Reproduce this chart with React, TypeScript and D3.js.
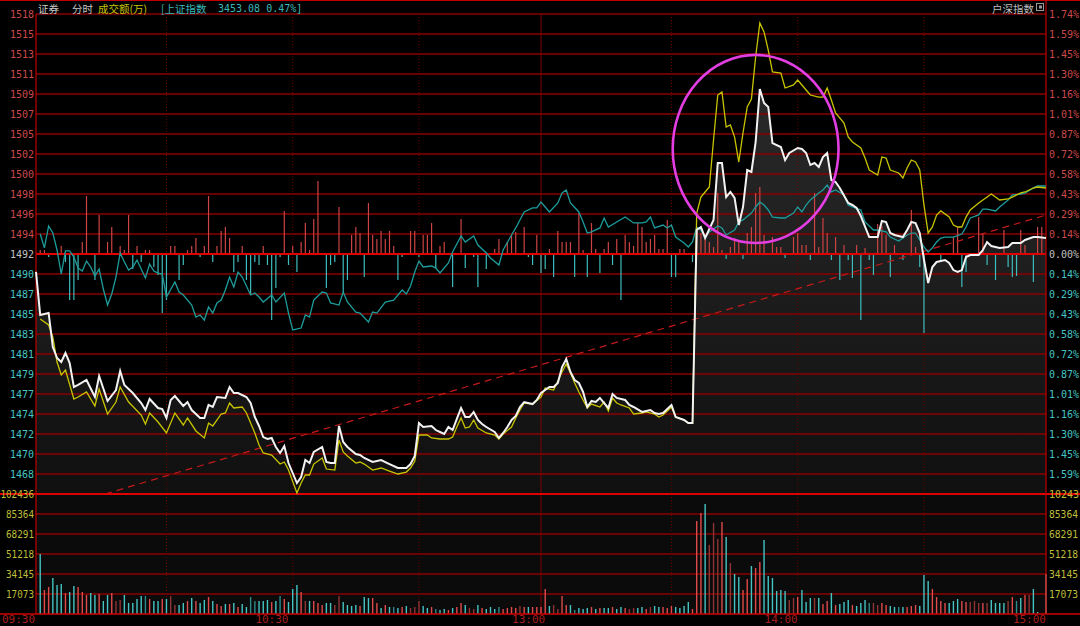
import React from "react";
import * as d3 from "d3";

// ---------- DATA ----------
const PREV_CLOSE = 1492.1;
const PRICE_STEP = 2.17;
const MAX_PCT = 1.74;
const MAX_VOL = 102436;

const header = { name: "证券", mode: "分时", volLabel: "成交额(万)", indexName: "[上证指数", indexValue: "3453.08 0.47%]" };
const cornerLabel = "户深指数";

const priceLabels = ["1518","1515","1513","1511","1509","1507","1505","1502","1500","1498","1496","1494","1492","1490","1487","1485","1483","1481","1479","1477","1474","1472","1470","1468"];
const pctLabels = ["1.74%","1.59%","1.45%","1.30%","1.16%","1.01%","0.87%","0.72%","0.58%","0.43%","0.29%","0.14%","0.00%","0.14%","0.29%","0.43%","0.58%","0.72%","0.87%","1.01%","1.16%","1.30%","1.45%","1.59%"];
const volTicks = [102436, 85364, 68291, 51218, 34145, 17073];
const timeLabels: [number, string, string][] = [[0, "09:30", "start"], [60, "10:30", "end"], [121, "13:00", "end"], [181, "14:00", "end"], [240, "15:00", "end"]];
const dottedMinutes = [31, 61, 91, 151, 181, 211];
const lunchMinute = 120;

// stock price (white)
const priceLine: [number, number][] = [
[0,1490.15],[1,1485.48],[3,1485.70],[4,1482.01],[5,1480.82],[6,1480.38],[7,1481.36],[8,1480.27],[9,1477.67],[10,1477.89],[12,1478.43],[14,1476.58],[15,1478.86],[17,1476.15],[19,1477.34],[20,1479.41],[21,1477.89],[23,1477.02],[25,1475.93],[26,1475.17],[27,1476.37],[29,1475.39],[30,1475.28],[31,1474.31],[32,1476.26],[33,1476.69],[35,1475.61],[36,1476.04],[37,1475.17],[39,1474.31],[40,1474.31],[41,1475.72],[42,1475.50],[43,1476.58],[45,1476.48],[46,1477.67],[47,1477.02],[48,1477.02],[50,1476.58],[51,1475.93],[52,1474.41],[53,1473.44],[54,1472.24],[55,1472.03],[56,1472.14],[57,1471.16],[58,1470.51],[59,1471.27],[60,1469.42],[62,1467.25],[63,1467.90],[64,1469.75],[65,1469.42],[66,1470.62],[68,1471.16],[69,1469.53],[70,1469.42],[71,1469.42],[72,1473.44],[73,1471.70],[74,1471.16],[76,1470.40],[77,1470.29],
[78,1469.97],[80,1469.53],[82,1469.75],[84,1469.31],[86,1468.88],[88,1468.88],[89,1469.31],[90,1470.2],[91,1473.76],[92,1473.33],[94,1473.44],[95,1473.00],[96,1472.79],[97,1472.57],[98,1473.33],[99,1473.00],[100,1474.20],[101,1475.39],[102,1474.41],[103,1474.41],[104,1474.96],[105,1474.09],[106,1473.65],[107,1473.33],[109,1472.79],[110,1472.14],[111,1472.68],[112,1473.33],[113,1474.09],[114,1474.52],[115,1475.50],[116,1476.04],[118,1475.82],[119,1476.26],[120,1477.02],
[122,1477.67],[123,1477.67],[124,1478.10],[125,1479.84],[126,1480.71],[127,1479.30],[128,1478.43],[129,1478.10],[130,1477.13],[131,1475.50],[132,1476.15],[133,1476.04],[134,1476.48],[135,1475.93],[136,1475.39],[137,1476.91],[138,1476.48],[140,1476.26],[141,1475.72],[142,1475.50],[144,1474.96],[145,1475.07],[146,1475.17],[147,1474.85],[148,1474.74],[149,1474.85],[151,1475.72],[152,1474.41],[154,1474.09],[155,1473.76],[156,1473.76],
[157,1494.70],[158,1495.03],[159,1493.84],[161,1495.79],[162,1501.97],[163,1501.97],[164,1498.28],[165,1498.83],[166,1498.18],[167,1495.25],[168,1497.20],[169,1501.21],[170,1501.00],[171,1504.25],[172,1510.00],[173,1508.48],[174,1508.05],[175,1504.14],[177,1503.71],[178,1502.30],[179,1503.06],[181,1503.60],[182,1503.49],[183,1503.06],[184,1501.76],[185,1501.97],[186,1501.54],[187,1502.62],[188,1503.06],[189,1500.13],[190,1499.91],[191,1499.26],[193,1497.63],[194,1497.42],[195,1497.09],[196,1496.22],[198,1493.94],[200,1493.94],[201,1495.68],[202,1495.57],[203,1494.38],[204,1494.16],[206,1493.94],[207,1494.70],[208,1495.57],[209,1495.46],[210,1494.38],[211,1491.5],[212,1488.95],[213,1490.69],[214,1491.23],[216,1491.45],[217,1491.12],[218,1490.36],[219,1490.15],[220,1490.36],[221,1491.77],[222,1491.99],[224,1491.99],[225,1492.53],[226,1493.40],[227,1492.97],[229,1492.75],[231,1492.86],[232,1493.29],[234,1493.29],[235,1493.62],[237,1493.94],[238,1493.94],[240,1493.84]
];

// yellow line
const yellowLine: [number, number][] = [
[1,1485.05],[3,1484.40],[4,1483.09],[5,1480.38],[6,1478.97],[7,1479.51],[9,1476.37],[10,1476.58],[12,1477.13],[14,1475.61],[15,1477.45],[17,1474.74],[19,1476.04],[20,1477.67],[22,1476.04],[25,1474.63],[26,1473.65],[27,1474.85],[29,1473.87],[31,1472.68],[33,1474.85],[35,1473.55],[36,1474.31],[38,1472.90],[40,1472.14],[41,1473.76],[42,1473.44],[44,1474.74],[45,1474.85],[46,1475.93],[47,1475.39],[49,1475.50],[50,1474.85],[52,1472.68],[53,1471.38],[54,1470.51],[56,1470.29],[58,1469.31],[59,1469.53],[60,1468.66],[62,1466.17],[63,1467.25],[64,1468.12],[65,1468.12],[66,1469.31],[68,1469.97],[69,1468.77],[71,1468.66],[72,1471.92],[73,1470.62],[74,1470.18],[76,1469.42],[77,1469.53],[78,1469.31],[80,1468.66],[82,1468.88],[84,1468.55],[86,1468.23],[88,1468.44],[89,1468.88],[90,1469.6],[91,1472.46],[93,1472.46],[94,1472.14],[96,1472.03],[98,1472.03],[99,1472.24],[100,1473.33],[101,1474.31],[102,1473.22],[103,1473.33],[104,1474.09],[105,1473.22],[107,1472.68],[109,1472.46],[110,1472.03],[111,1472.57],[113,1473.33],[114,1474.31],[115,1475.17],[116,1475.93],[118,1475.82],[120,1476.58],[121,1477.56],[122,1477.45],[123,1477.34],[125,1479.30],[126,1480.16],[127,1479.19],[128,1478.10],[129,1477.13],[131,1475.39],[132,1475.82],[134,1475.50],[135,1476.04],[136,1475.07],[137,1476.48],[138,1475.93],[139,1475.72],[141,1475.39],[142,1474.74],[144,1474.85],[145,1474.96],[147,1474.74],[148,1474.41],[149,1474.63],[151,1475.50],[152,1474.41],[154,1474.09],[155,1473.76],[156,1473.76],
[157,1496.5],[158,1498.28],[159,1498.83],[160,1499.37],[161,1504.47],[162,1509.35],[163,1509.68],[164,1505.88],[165,1506.10],[166,1504.79],[167,1502.08],[168,1505.23],[169,1508.05],[170,1508.92],[171,1513.47],[172,1517.16],[173,1516.19],[174,1514.23],[175,1511.85],[177,1511.74],[178,1510.11],[180,1510.44],[181,1510.98],[182,1510.44],[183,1509.89],[184,1509.35],[186,1509.13],[187,1509.13],[188,1510.11],[189,1508.81],[190,1507.40],[192,1506.31],[193,1504.79],[194,1504.25],[196,1503.60],[197,1502.52],[198,1501.21],[200,1500.67],[201,1502.62],[202,1502.52],[203,1501.21],[205,1500.89],[206,1500.35],[207,1501.43],[208,1502.30],[209,1502.08],[210,1501.21],[211,1497.42],[212,1494.38],[213,1495.03],[214,1496.33],[215,1496.77],[217,1496.11],[218,1495.25],[219,1495.03],[220,1495.03],[221,1496.11],[222,1496.87],[224,1497.63],[226,1498.28],[227,1498.61],[228,1498.28],[229,1497.96],[231,1498.07],[232,1498.28],[234,1498.72],[235,1498.83],[237,1499.26],[238,1499.37],[240,1499.26]
];

// Shanghai index overlay (% change)
const indexPct: [number, number][] = [
[1,0.145],[2,0.044],[3,0.203],[4,0.152],[5,0.029],[6,-0.145],[7,0.022],[8,0.022],[9,-0.022],[10,-0.102],[11,-0.123],[12,-0.051],[13,-0.094],[14,-0.160],[15,-0.109],[16,-0.254],[17,-0.370],[18,-0.290],[19,-0.167],[20,0.007],[21,-0.058],[22,-0.116],[23,-0.094],[24,-0.044],[25,-0.109],[26,-0.174],[27,-0.073],[28,-0.123],[29,-0.138],[30,-0.145],[31,-0.312],[33,-0.203],[34,-0.276],[35,-0.297],[37,-0.370],[38,-0.457],[39,-0.442],[40,-0.479],[41,-0.384],[42,-0.428],[43,-0.355],[44,-0.334],[45,-0.261],[46,-0.167],[47,-0.239],[48,-0.131],[49,-0.167],[51,-0.297],[52,-0.283],[53,-0.312],[54,-0.348],[56,-0.297],[57,-0.348],[59,-0.283],[60,-0.428],[61,-0.551],[63,-0.537],[64,-0.442],[65,-0.457],[66,-0.334],[68,-0.276],[69,-0.283],[70,-0.355],[72,-0.370],[73,-0.276],[74,-0.348],[76,-0.421],[77,-0.428],[79,-0.493],[80,-0.421],[81,-0.428],[83,-0.348],[85,-0.334],[87,-0.261],[88,-0.290],[89,-0.232],[90,-0.131],[91,-0.051],[92,-0.094],[94,-0.087],[95,-0.102],[96,-0.138],[98,-0.065],[99,0.015],[101,0.131],[102,0.087],[104,0.131],[105,0.065],[107,0.007],[108,-0.029],[110,-0.080],[111,0.029],[113,0.138],[114,0.189],[116,0.305],[118,0.334],[119,0.334],[120,0.377],[122,0.305],[124,0.370],[125,0.442],[126,0.464],[127,0.370],[129,0.305],[130,0.232],[131,0.152],[132,0.160],[134,0.189],[135,0.261],[136,0.196],[138,0.232],[140,0.268],[142,0.225],[144,0.225],[145,0.232],[146,0.268],[147,0.189],[149,0.210],[150,0.189],[151,0.210],[152,0.123],[154,0.080],[155,0.051],[156,0.087],[157,0.196],[158,0.174],[159,0.116],[160,0.160],[162,0.203],[163,0.189],[164,0.138],[166,0.174],[167,0.232],[168,0.247],[170,0.297],[171,0.341],[172,0.377],[173,0.355],[174,0.319],[175,0.268],[177,0.261],[178,0.261],[180,0.297],[181,0.341],[182,0.305],[183,0.355],[184,0.392],[186,0.442],[187,0.464],[188,0.500],[189,0.450],[190,0.464],[192,0.428],[193,0.355],[194,0.341],[196,0.319],[197,0.232],[199,0.174],[200,0.174],[202,0.160],[203,0.123],[205,0.094],[207,0.138],[208,0.152],[209,0.152],[211,0.051],[212,0.015],[213,0.044],[214,0.087],[215,0.116],[216,0.123],[218,0.123],[220,0.145],[221,0.196],[222,0.261],[224,0.283],[225,0.326],[226,0.326],[228,0.312],[229,0.341],[231,0.392],[232,0.428],[234,0.435],[235,0.442],[237,0.479],[238,0.493],[240,0.493]
];

// buy/sell strength bars (positive red, negative teal)
const strengthBars: [number, number][] = [
[1,4],[2,4],[4,1],[6,8],[11,12],[12,58],[15,39],[17,12],[18,27],[20,8],[21,4],[22,39],[24,8],[26,4],[27,4],[32,8],[33,8],[36,4],[37,8],[38,16],[40,8],[41,58],[43,8],[44,23],[45,27],[46,16],[49,8],[54,8],[59,43],[61,8],[63,12],[64,31],[65,4],[66,35],[67,73],[72,47],[75,19],[76,27],[77,21],[79,51],[80,19],[81,15],[82,23],[83,15],[84,23],[85,8],[89,23],[90,23],[92,19],[93,19],[94,31],[96,8],[97,12],[101,35],[109,5],[110,15],[112,12],[113,19],[114,22],[116,27],[119,19],[122,5],[124,23],[125,12],[126,12],[127,12],[129,41],[130,4],[132,31],[133,5],[135,5],[136,12],[138,15],[140,19],[141,12],[142,8],[143,31],[144,27],[145,12],[146,15],[147,19],[148,5],[149,5],[150,34],[153,5],[154,5],[157,27],[158,21],[159,16],[160,12],[161,7],[162,61],[163,4],[165,7],[166,16],[167,12],[169,21],[170,27],[171,61],[172,67],[173,19],[175,17],[176,7],[177,7],[180,17],[181,21],[182,9],[183,9],[185,61],[186,7],[187,36],[188,21],[190,17],[192,9],[195,9],[197,6],[200,30],[201,28],[202,19],[204,9],[208,44],[209,7],[218,17],[219,27],[224,37],[225,21],[230,24],[234,24],[235,9],[238,27],[239,27],
[3,-3],[7,-8],[8,-46],[9,-46],[10,-26],[14,-26],[23,-15],[25,-8],[28,-13],[29,-21],[30,-59],[31,-46],[34,-26],[35,-11],[39,-3],[42,-8],[47,-18],[48,-8],[50,-26],[51,-41],[52,-8],[53,-11],[55,-11],[56,-66],[57,-34],[58,-3],[60,-11],[62,-18],[69,-34],[70,-11],[71,-8],[73,-38],[74,-26],[78,-23],[86,-26],[87,-3],[91,-3],[95,-14],[99,-33],[102,-14],[104,-3],[105,-33],[107,-15],[117,-3],[118,-11],[120,-19],[121,-15],[123,-23],[128,-23],[131,-23],[134,-19],[137,-11],[139,-46],[151,-23],[152,-23],[156,-8],[164,-5],[168,-5],[178,-4],[184,-6],[189,-6],[191,-26],[193,-6],[194,-24],[196,-66],[198,-6],[199,-21],[203,-23],[206,-6],[210,-13],[211,-79],[215,-6],[220,-33],[221,-18],[226,-11],[228,-26],[231,-13],[232,-23],[233,-22],[237,-28]
];

// turnover per minute (万), minutes 1..238
const volumes = [
51218,20488,23049,30731,24756,25610,17927,18780,23902,23049,
18780,16219,17927,16219,17073,11097,16219,17927,11097,11951,
16219,9390,9390,12805,15366,15366,12805,11097,11097,12805,
12805,15366,7683,7683,9390,11097,13658,11097,9390,11951,
14512,11097,8537,6829,8537,8537,9390,5976,8537,5976,
14512,11097,11097,11097,11951,10244,11097,15366,12805,10244,
21341,24756,18780,11097,11097,11097,9390,7683,9390,9390,
7683,15366,10244,7683,6829,7683,6829,14512,13658,13658,
9390,5122,7683,5976,5976,5122,5976,6829,5122,5976,
11097,6829,5122,5976,4268,3415,4268,3415,5122,5976,
9390,7683,5122,4268,7683,5122,4268,5976,4268,5976,
4268,5122,5976,5122,6829,5976,5976,5976,5976,5976,
21341,6829,7683,4268,15366,7683,7683,3415,5122,4268,
5122,5976,4268,5122,5122,5122,5976,4268,5976,5122,
4268,5122,5122,5976,4268,5976,6829,5976,5976,5122,
6829,5976,5122,6829,10244,4268,79389,86219,93902,58902,
77682,64024,78536,65731,43536,34146,31585,20488,29878,40975,
39268,44390,63170,32439,30731,19634,20488,19634,11951,13658,
14512,20488,10244,13658,13658,13658,8537,11097,17927,7683,
8537,10244,11951,7683,6829,9390,11951,9390,9390,7683,
9390,7683,6829,5976,5976,5976,5976,6829,7683,6829,
33292,28170,21341,14512,11097,9390,9390,11097,12805,11097,
10244,10244,11097,9390,9390,9390,11951,9390,9390,9390,
11097,14512,11097,13658,16219,16219,21341,1707
];
// U up, u up (flat), D down, d down (flat)
const volTypes =
  "DUUDDDUDDU" + "UUDDUDDUuu" + "DDDDDdUDDU" + "DuuDDUDUDD" + "UDUUDUDUDD" +
  "ddDDDUDdUD" + "DDUuDUUUDD" + "uuDDDDUDDU" + "UDUDdDUDuu" + "uDDUdDDUDU" +
  "UDuuDUDDDd" + "UUUUuUDUUU" + "UDuuUUDdDD" + "DUDUDDUDDU" + "uuDDUuDDUU" +
  "UDDDDUUUDu" + "uuUDuDDUUD" + "UUDDDDDDuu" + "UDDDuDUUDU" + "DDDUDDDduu" +
  "UUDDdDUUUD" + "DDUUUUDDDU" + "UuuuUuDDDD" + "uUdDUuDD";
const lastVolume: [number, number] = [240, 34145];

// annotations
const trendLine: [number, number][] = [[16.4, 1466.06], [240, 1496.33]];
const circleNote = { minute: 171, price: 1503.5, rMinutes: 19.7, rPrice: 10.2 };

// ---------- CHART ----------
const W = 1080, H = 626;
const L = 36, R = 1046, TOP = 14, MID_BOTTOM = 494, VOL_BOTTOM = 614;

export default function App() {
  const x = d3.scaleLinear().domain([0, 240]).range([L, R]);
  const pctY = d3.scaleLinear().domain([-MAX_PCT, MAX_PCT]).range([MID_BOTTOM, TOP]);
  const priceY = d3.scaleLinear().domain([PREV_CLOSE - 12 * PRICE_STEP, PREV_CLOSE + 12 * PRICE_STEP]).range([MID_BOTTOM, TOP]);
  const volY = d3.scaleLinear().domain([0, MAX_VOL]).range([VOL_BOTTOM, MID_BOTTOM]);
  const strengthY = d3.scaleLinear().domain([-240, 240]).range([MID_BOTTOM, TOP]);
  const volColor = d3.scaleOrdinal<string, string>().domain(["U", "u", "D", "d"]).range(["#e04a4a", "#8e3434", "#45c4c4", "#2b8a8a"]);

  const priceGen = d3.line<[number, number]>().x(d => x(d[0])).y(d => priceY(d[1]));
  const areaGen = d3.area<[number, number]>().x(d => x(d[0])).y0(MID_BOTTOM).y1(d => priceY(d[1]));
  const pctGen = d3.line<[number, number]>().x(d => x(d[0])).y(d => pctY(d[1]));

  const gridK = d3.range(12, -12, -1); // 24 levels from +12 to -11
  const stepPct = MAX_PCT / 12;
  const zeroY = pctY(0);
  const mono = "'DejaVu Sans Mono', 'Liberation Mono', monospace";
  const cjk = "'Noto Sans CJK SC', 'Noto Sans', sans-serif";

  const cx = x(circleNote.minute), cy = priceY(circleNote.price);
  const rx = x(circleNote.rMinutes) - x(0);
  const ry = priceY(PREV_CLOSE) - priceY(PREV_CLOSE + circleNote.rPrice);
  const hy = 12.5;

  return (
    <svg width={W} height={H} style={{ position: "fixed", left: 0, top: 0, background: "#000" }}>
      <defs>
        <linearGradient id="fillGrad" gradientUnits="userSpaceOnUse" x1="0" y1={TOP} x2="0" y2={MID_BOTTOM}>
          <stop offset="0" stopColor="#2e2e2e" />
          <stop offset="1" stopColor="#101010" />
        </linearGradient>
      </defs>
      <rect x={0} y={0} width={W} height={H} fill="#000" />
      <rect x={L} y={MID_BOTTOM} width={R - L} height={VOL_BOTTOM - MID_BOTTOM} fill="#0b0b0b" />
      <path d={areaGen(priceLine) || ""} fill="url(#fillGrad)" />

      {/* horizontal grid */}
      {gridK.map(k => (
        <line key={"g" + k} x1={L} x2={R} y1={pctY(k * stepPct)} y2={pctY(k * stepPct)} stroke="#8a0000" strokeWidth={1.4} />
      ))}
      {volTicks.slice(1).map(v => (
        <line key={"vg" + v} x1={L} x2={R} y1={volY(v)} y2={volY(v)} stroke="#8a0000" strokeWidth={1.4} />
      ))}
      {/* vertical grid */}
      {dottedMinutes.map(m => (
        <line key={"v" + m} x1={x(m)} x2={x(m)} y1={TOP} y2={VOL_BOTTOM} stroke="#6a0000" strokeWidth={1} strokeDasharray="1,2" />
      ))}
      <line x1={x(lunchMinute)} x2={x(lunchMinute)} y1={TOP} y2={VOL_BOTTOM} stroke="#7e0000" strokeWidth={1} />

      {/* strength bars */}
      {strengthBars.map(([m, v], i) => (
        <line key={"s" + i} x1={x(m)} x2={x(m)} y1={strengthY(0)} y2={strengthY(v)} stroke={v > 0 ? "#cc4444" : "#3fbcbc"} strokeWidth={1.2} />
      ))}

      {/* volume bars */}
      {volumes.map((v, i) => (
        <line key={"vb" + i} x1={x(i + 1)} x2={x(i + 1)} y1={VOL_BOTTOM} y2={volY(v)} stroke={volColor(volTypes[i] || "D")} strokeWidth={1.4} />
      ))}
      <line x1={x(lastVolume[0])} x2={x(lastVolume[0])} y1={VOL_BOTTOM} y2={volY(lastVolume[1])} stroke="#bdbdbd" strokeWidth={1.4} />

      {/* trend line */}
      <path d={priceGen(trendLine) || ""} fill="none" stroke="#c41a1a" strokeWidth={1.2} strokeDasharray="7,5" />

      {/* main red frame lines */}
      <line x1={0} x2={W} y1={0.5} y2={0.5} stroke="#c00000" strokeWidth={1} />
      <line x1={L} x2={R} y1={zeroY} y2={zeroY} stroke="#e00000" strokeWidth={2} />
      <line x1={0} x2={W} y1={MID_BOTTOM} y2={MID_BOTTOM} stroke="#e00000" strokeWidth={2} />
      <line x1={0} x2={W} y1={VOL_BOTTOM} y2={VOL_BOTTOM} stroke="#d00000" strokeWidth={1.6} />
      <line x1={L} x2={L} y1={TOP} y2={VOL_BOTTOM} stroke="#c00000" strokeWidth={1.2} />
      <line x1={R} x2={R} y1={0} y2={VOL_BOTTOM} stroke="#c00000" strokeWidth={1.2} />

      {/* lines */}
      <path d={pctGen(indexPct) || ""} fill="none" stroke="#1e9c9c" strokeWidth={1.3} />
      <path d={priceGen(yellowLine) || ""} fill="none" stroke="#c8c400" strokeWidth={1.3} />
      <path d={priceGen(priceLine) || ""} fill="none" stroke="#f2f2f2" strokeWidth={2} />

      {/* annotation ellipse */}
      <ellipse cx={cx} cy={cy} rx={rx} ry={ry} fill="none" stroke="#e23ee2" strokeWidth={2.6} />

      {/* axis labels */}
      {gridK.map((k, i) => {
        const col = k > 0 ? "#cc4a4a" : k === 0 ? "#c0c0c0" : "#46c4c4";
        const yy = pctY(k * stepPct) + 4;
        return (
          <g key={"lab" + k}>
            <text x={34} y={yy} textAnchor="end" fontFamily={mono} fontSize={10} fill={col}>{priceLabels[i]}</text>
            <text x={1049} y={yy} textAnchor="start" fontFamily={mono} fontSize={10} fill={col}>{pctLabels[i]}</text>
          </g>
        );
      })}
      {volTicks.map(v => {
        const s = String(v);
        return (
          <g key={"vl" + v}>
            <text x={34 - s.length * 5.6} y={volY(v) + 4} textLength={s.length * 5.6} lengthAdjust="spacingAndGlyphs" fontFamily={mono} fontSize={10} fill="#bebe3a">{s}</text>
            <text x={1049} y={volY(v) + 4} textLength={Math.min(s.length * 5.8, 30)} lengthAdjust="spacingAndGlyphs" fontFamily={mono} fontSize={10} fill="#bebe3a">{s.length > 5 ? s.slice(0, 5) : s}</text>
          </g>
        );
      })}
      {timeLabels.map(([m, t, anchor]) => (
        <text key={t} x={m === 0 ? 2 : x(m)} y={623} textAnchor={anchor} fontFamily={mono} fontSize={11} fill="#a81e1e">{t}</text>
      ))}

      {/* header */}
      <text x={38} y={hy} fontFamily={cjk} fontSize={10.5} fill="#c8c8c8">{header.name}</text>
      <text x={72} y={hy} fontFamily={cjk} fontSize={10.5} fill="#c8c8c8">{header.mode}</text>
      <text x={98} y={hy} fontFamily={cjk} fontSize={10.5} fill="#c8c400">{header.volLabel}</text>
      <text x={161} y={hy} fontFamily={cjk} fontSize={10.5} fill="#3cb8b8">{header.indexName}</text>
      <text x={218} y={hy - 0.5} fontFamily={mono} fontSize={10} fill="#3cb8b8">{header.indexValue}</text>
      <text x={992} y={hy} fontFamily={cjk} fontSize={10.5} fill="#bcbcbc">{cornerLabel}</text>
      <rect x={1036.5} y={3.5} width={7} height={7} fill="none" stroke="#9a9a9a" strokeWidth={1} />
      <rect x={1039} y={5.5} width={3} height={3} fill="#9a9a9a" />
    </svg>
  );
}
